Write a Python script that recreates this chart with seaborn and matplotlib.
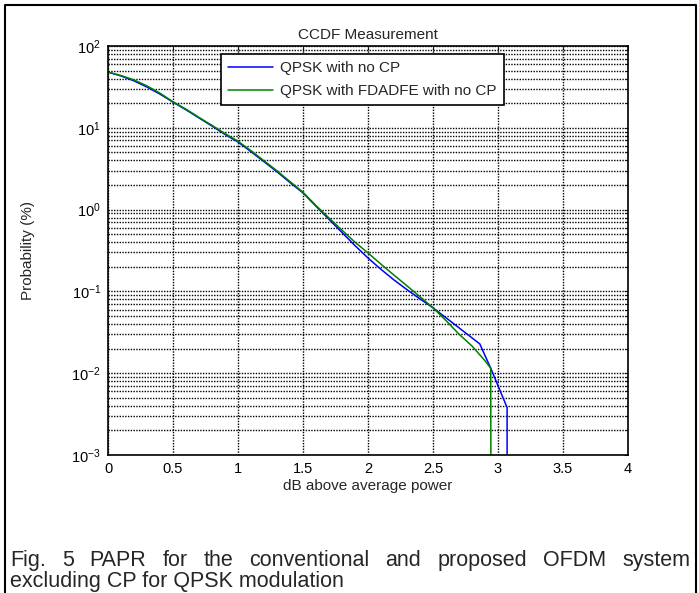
import numpy as np
import pandas as pd
import matplotlib
matplotlib.use("Agg")
import matplotlib.pyplot as plt
import seaborn as sns
from matplotlib.ticker import LogLocator, FixedLocator
from matplotlib.lines import Line2D

# ---------------- data ----------------
x_blue = [0.0, 0.1, 0.2, 0.3, 0.4, 0.5, 0.6, 0.7, 0.8, 0.9, 1.0, 1.1, 1.2, 1.3, 1.4, 1.5,
          1.6, 1.7, 1.8, 1.9, 2.0, 2.1, 2.2, 2.3, 2.4, 2.5, 2.62, 2.86, 2.944, 3.07, 3.07]
p_blue = [48, 43, 37.5, 31.5, 25.8, 20.6, 16.6, 13.2, 10.5, 8.3, 6.7, 5.1, 3.85, 2.9, 2.14, 1.6,
          1.1, 0.76, 0.525, 0.363, 0.256, 0.186, 0.138, 0.105, 0.081, 0.063, 0.045, 0.0228,
          0.0115, 0.0038, 1e-6]

x_green = [0.0, 0.1, 0.2, 0.3, 0.4, 0.5, 0.6, 0.7, 0.8, 0.9, 1.0, 1.1, 1.2, 1.3, 1.4, 1.5,
           1.6, 1.7, 1.8, 1.9, 2.0, 2.1, 2.2, 2.3, 2.4, 2.5, 2.6, 2.7, 2.8, 2.9, 2.944, 2.948]
p_green = [48, 43.5, 38.5, 32.5, 26.5, 20.8, 16.9, 13.4, 10.7, 8.5, 6.85, 5.25, 3.95, 2.98, 2.2, 1.63,
           1.12, 0.79, 0.56, 0.40, 0.295, 0.215, 0.158, 0.117, 0.086, 0.063, 0.044, 0.030,
           0.0215, 0.0142, 0.0115, 1e-6]

series_names = ["QPSK with no CP", "QPSK with FDADFE with no CP"]
series_colors = ["#0000FF", "#008000"]
x_ticks = [0, 0.5, 1, 1.5, 2, 2.5, 3, 3.5, 4]
x_tick_labels = ["0", "0.5", "1", "1.5", "2", "2.5", "3", "3.5", "4"]

title_text = "CCDF Measurement"
xlabel_text = "dB above average power"
ylabel_text = "Probability (%)"
caption_line1 = ["Fig.", "5", "PAPR", "for", "the", "conventional", "and", "proposed", "OFDM", "system"]
caption_line2 = "excluding CP for QPSK modulation"

# ---------------- figure ----------------
sns.set_style("white")
plt.rcParams["font.family"] = ["Liberation Sans", "DejaVu Sans"]
plt.rcParams["mathtext.fontset"] = "custom"
plt.rcParams["mathtext.rm"] = "Liberation Sans"
plt.rcParams["mathtext.it"] = "Liberation Sans"
plt.rcParams["axes.unicode_minus"] = False

W, H = 699, 593
fig = plt.figure(figsize=(W / 100, H / 100), dpi=100)
fig.patch.set_facecolor("white")

L, R, T, B = 108, 628, 46, 455
ax = fig.add_axes([L / W, 1 - B / H, (R - L) / W, (B - T) / H])
ax.set_facecolor("white")

df = pd.concat([
    pd.DataFrame({"x": x_blue, "p": p_blue, "series": series_names[0]}),
    pd.DataFrame({"x": x_green, "p": p_green, "series": series_names[1]}),
], ignore_index=True)

sns.lineplot(data=df, x="x", y="p", hue="series", palette=dict(zip(series_names, series_colors)),
             estimator=None, sort=False, units="series", lw=1.1, ax=ax, legend=False)

ax.set_yscale("log")
ax.set_xlim(0, 4)
ax.set_ylim(1e-3, 1e2)

ax.xaxis.set_major_locator(FixedLocator(x_ticks))
ax.set_xticklabels(x_tick_labels)
ax.yaxis.set_major_locator(LogLocator(base=10, numticks=10))
ax.yaxis.set_minor_locator(LogLocator(base=10, subs=np.arange(2, 10), numticks=100))

grid_kw = dict(color="black", linestyle=(0, (1, 1)), linewidth=1.0)
ax.grid(True, which="major", axis="both", **grid_kw)
ax.grid(True, which="minor", axis="y", **grid_kw)
ax.set_axisbelow(True)

ax.tick_params(which="both", direction="in", top=True, right=True, labelsize=10.5,
               colors="black", length=3, width=0.6)
ax.tick_params(axis="y", pad=5)
ax.tick_params(axis="x", pad=5)
ax.tick_params(which="minor", length=2)
for s in ax.spines.values():
    s.set_color("black")
    s.set_linewidth(1.2)
    s.set_visible(True)

ax.set_title(title_text, fontsize=11, pad=5)
ax.set_xlabel(xlabel_text, fontsize=11, labelpad=2)
ax.set_ylabel(ylabel_text, fontsize=11, labelpad=26)

handles = [Line2D([], [], color=c, lw=1.1) for c in series_colors]
leg = ax.legend(handles, series_names, loc="upper left",
                bbox_to_anchor=((221 - L) / (R - L), (B - 54) / (B - T)),
                borderaxespad=0, fontsize=11, frameon=True, fancybox=False,
                edgecolor="black", framealpha=1, handlelength=2.95, handletextpad=0.45,
                borderpad=0.46, labelspacing=0.58)
leg.get_frame().set_linewidth(1.2)

# outer frame (open at the bottom, as in the picture)
frame = Line2D([5 / W, 5 / W, 696 / W, 696 / W], [-0.1, 1 - 5 / H, 1 - 5 / H, -0.1],
               transform=fig.transFigure, color="black", lw=1.5, clip_on=False)
fig.add_artist(frame)

# caption, first line justified between x=10 and x=690
cap_fs = 15.5
fig.canvas.draw()
renderer = fig.canvas.get_renderer()
texts = [fig.text(0, 1 - 566 / H, w, fontsize=cap_fs, va="baseline", ha="left") for w in caption_line1]
widths = [t.get_window_extent(renderer).width for t in texts]
x0, x1 = 10, 690
gap = (x1 - x0 - sum(widths)) / (len(widths) - 1)
xpos = x0
for t, w in zip(texts, widths):
    t.set_x(xpos / W)
    xpos += w + gap
fig.text(10 / W, 1 - 587 / H, caption_line2, fontsize=cap_fs, va="baseline", ha="left")

fig.savefig("out.png", dpi=100, facecolor="white")
